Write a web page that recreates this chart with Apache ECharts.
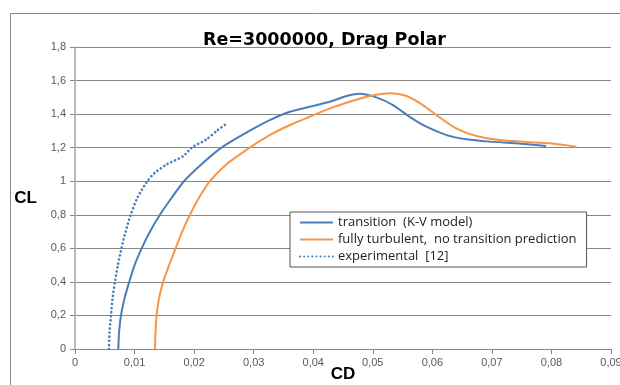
<!DOCTYPE html>
<html>
<head>
<meta charset="utf-8">
<script src="https://cdn.jsdelivr.net/npm/echarts@6/dist/echarts.min.js"></script>
<style>html,body{margin:0;padding:0;background:#fff;overflow:hidden}#c{width:620px;height:385px}</style>
</head>
<body>
<div id="c"></div>
<script>
const seriesNames = ['transition  (K-V model)', 'fully turbulent,  no transition prediction', 'experimental  [12]'];
const transitionCD = [0.00727,0.0074,0.00772,0.0083,0.00911,0.0100,0.0112,0.0126,0.01426,0.0162,0.0183,0.0212,0.0246,0.02936,0.0327,0.0361,0.0394,0.0428,0.0456,0.0478,0.0506,0.0534,0.0562,0.059,0.0624,0.0657,0.0696,0.0741,0.0791];
const transitionCL = [0,0.1,0.2,0.3,0.4,0.5,0.6,0.7,0.8,0.9,1.0,1.1,1.2,1.301,1.364,1.414,1.444,1.474,1.508,1.522,1.50,1.454,1.384,1.325,1.275,1.25,1.236,1.226,1.21];
const turbulentCD = [0.01344,0.01352,0.0137,0.0141,0.0148,0.0158,0.0169,0.0180,0.0193,0.0208,0.02265,0.0254,0.0294,0.0327,0.0361,0.0394,0.0428,0.0461,0.0495,0.0529,0.0557,0.0584,0.0612,0.064,0.0674,0.0713,0.0758,0.0797,0.0842];
const turbulentCL = [0,0.1,0.2,0.3,0.4,0.5,0.6,0.7,0.8,0.9,1.0,1.1,1.202,1.275,1.335,1.384,1.434,1.474,1.508,1.524,1.508,1.454,1.381,1.315,1.269,1.245,1.234,1.226,1.206];
const expCD = [0.0057,0.0058,0.00604,0.0063,0.00671,0.0072,0.0078,0.0085,0.00935,0.01046,0.01213,0.0134,0.01538,0.0182,0.0196,0.0221,0.0238,0.0255];
const expCL = [0,0.1,0.2,0.3,0.4,0.5,0.6,0.7,0.8,0.9,1.0,1.05,1.1,1.15,1.2,1.25,1.3,1.345];
const xTicks = {min: 0, max: 0.09, interval: 0.01};
const yTicks = {min: 0, max: 1.8, interval: 0.2};

const zip = (a, b) => a.map((v, i) => [v, b[i]]);
const fmt = v => String(+v.toFixed(4)).replace('.', ',');
const FONT = 'Liberation Sans';
const chart = echarts.init(document.getElementById('c'), null, {renderer: 'canvas'});
chart.setOption({
  animation: false,
  textStyle: {fontFamily: FONT},
  title: {text: 'Re=3000000, Drag Polar', left: 198, top: 26,
    textStyle: {fontSize: 17.5, fontWeight: 'bold', color: '#000', fontFamily: 'DejaVu Sans'}},
  graphic: [{type: 'rect', shape: {x: 10.5, y: 13.5, width: 640, height: 400},
    style: {fill: 'none', stroke: '#8a8a8a', lineWidth: 1}, silent: true}],
  grid: {left: 75, right: 9, top: 47, bottom: 36, outerBoundsMode: 'none', containLabel: false},
  legend: {
    orient: 'vertical', left: 290, top: 212,
    backgroundColor: '#fff', borderColor: '#555', borderWidth: 1,
    padding: [4, 10, 4, 9], itemGap: 4, itemWidth: 33, itemHeight: 14,
    itemStyle: {opacity: 0},
    textStyle: {fontSize: 13, color: '#222', fontFamily: 'Open Sans'},
    data: seriesNames
  },
  xAxis: {
    type: 'value', min: xTicks.min, max: xTicks.max, interval: xTicks.interval,
    name: 'CD', nameLocation: 'middle', nameGap: 17, nameMoveOverlap: false,
    nameTextStyle: {fontSize: 17, fontWeight: 'bold', color: '#000'},
    axisLine: {show: true, lineStyle: {color: '#888', width: 1}},
    axisTick: {show: true, length: 5, lineStyle: {color: '#888'}},
    axisLabel: {fontSize: 11, color: '#595959', margin: 8, formatter: fmt, showMaxLabel: true},
    splitLine: {show: false}
  },
  yAxis: {
    type: 'value', min: yTicks.min, max: yTicks.max, interval: yTicks.interval,
    name: 'CL', nameLocation: 'middle', nameGap: 38, nameRotate: 0, nameMoveOverlap: false,
    nameTextStyle: {fontSize: 17, fontWeight: 'bold', color: '#000', padding: [8, 0, 0, 0]},
    axisLine: {show: true, lineStyle: {color: '#bbb', width: 2}},
    axisTick: {show: true, length: 5, lineStyle: {color: '#888'}},
    axisLabel: {fontSize: 11, color: '#595959', margin: 9, formatter: fmt},
    splitLine: {show: true, lineStyle: {color: '#888', width: 1}}
  },
  series: [
    {name: seriesNames[0], type: 'line', data: zip(transitionCD, transitionCL), smooth: 0.25,
      showSymbol: false, symbol: 'none', color: '#4a7ebb', lineStyle: {width: 2, color: '#4a7ebb'}},
    {name: seriesNames[1], type: 'line', data: zip(turbulentCD, turbulentCL), smooth: 0.25,
      showSymbol: false, symbol: 'none', color: '#f79646', lineStyle: {width: 2, color: '#f79646'}},
    {name: seriesNames[2], type: 'line', data: zip(expCD, expCL), smooth: 0.25,
      showSymbol: false, symbol: 'none', color: '#4a7ebb', lineStyle: {width: 2.6, color: '#4a7ebb', type: [0.1, 4], cap: 'round'}}
  ]
});
</script>
</body>
</html>
